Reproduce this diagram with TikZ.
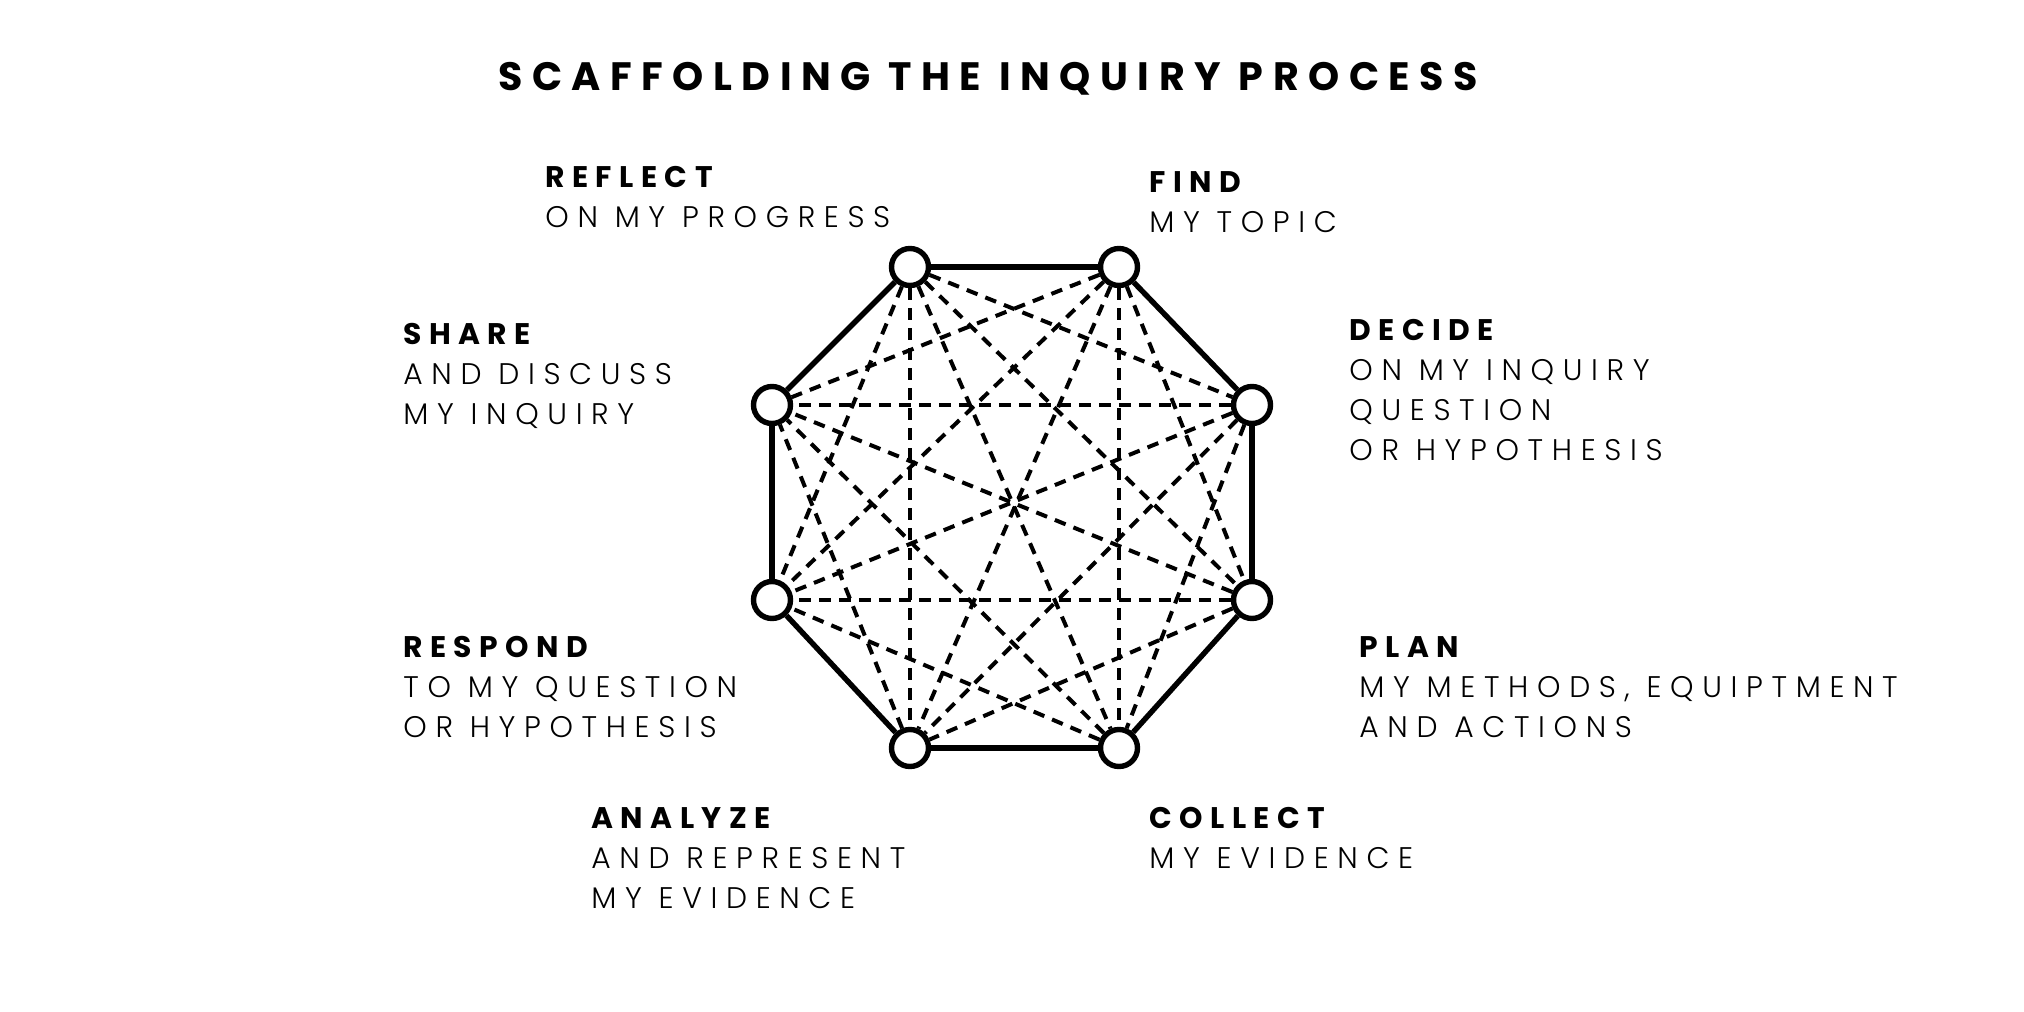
\documentclass[tikz,border=0pt]{standalone}
\usepackage{fontspec}
\setmainfont{Poppins}
\newfontfamily\stagefont[LetterSpace=25]{Poppins}
\newfontfamily\notefont[LetterSpace=29,UprightFont={* Light}]{Poppins}
\newfontfamily\titlefont[LetterSpace=24]{Poppins}

\begin{document}
\begin{tikzpicture}[
    x=0.5pt,
    y=-0.5pt,
    stage/.style={circle, draw, fill=white, line width=2.7pt, minimum size=18.5pt, inner sep=0pt},
    rim/.style={line width=2.7pt},
    link/.style={line width=2pt, dash pattern=on 5.8pt off 4.2pt},
    caption/.style={anchor=base west, align=left, inner sep=0pt, font=\fontsize{14.9}{20}\selectfont}
]
\useasboundingbox (0,0) rectangle (2024,1012);

% Title
\node[anchor=base, inner sep=0pt, font=\fontsize{19.8}{24}\selectfont] (title) at (988,90)
    {\titlefont\bfseries SCAFFOLDING THE INQUIRY PROCESS};

% Stages
\node[stage] (reflect) at (910,267) {};
\node[stage] (find) at (1119,267) {};
\node[stage] (decide) at (1252,405) {};
\node[stage] (plan) at (1252,600) {};
\node[stage] (collect) at (1119,748) {};
\node[stage] (analyze) at (910,748) {};
\node[stage] (respond) at (772,600) {};
\node[stage] (share) at (772,405) {};

% Octagon
\draw[rim] (reflect) -- (find);
\draw[rim] (find) -- (decide);
\draw[rim] (decide) -- (plan);
\draw[rim] (plan) -- (collect);
\draw[rim] (collect) -- (analyze);
\draw[rim] (analyze) -- (respond);
\draw[rim] (respond) -- (share);
\draw[rim] (share) -- (reflect);

% Diagonals
\draw[link] (reflect) -- (decide);
\draw[link] (reflect) -- (plan);
\draw[link] (reflect) -- (collect);
\draw[link] (reflect) -- (analyze);
\draw[link] (reflect) -- (respond);
\draw[link] (find) -- (plan);
\draw[link] (find) -- (collect);
\draw[link] (find) -- (analyze);
\draw[link] (find) -- (respond);
\draw[link] (find) -- (share);
\draw[link] (decide) -- (collect);
\draw[link] (decide) -- (analyze);
\draw[link] (decide) -- (respond);
\draw[link] (decide) -- (share);
\draw[link] (plan) -- (analyze);
\draw[link] (plan) -- (respond);
\draw[link] (plan) -- (share);
\draw[link] (collect) -- (respond);
\draw[link] (collect) -- (share);
\draw[link] (analyze) -- (share);

% Labels (anchored at the baseline of the last line)
\node[caption] (reflecttxt) at (545,227)
    {{\stagefont\bfseries REFLECT}\\{\notefont ON MY PROGRESS}};
\node[caption] (findtxt) at (1149,232)
    {{\stagefont\bfseries FIND}\\{\notefont MY TOPIC}};
\node[caption] (decidetxt) at (1349,460)
    {{\stagefont\bfseries DECIDE}\\{\notefont ON MY INQUIRY}\\{\notefont QUESTION}\\{\notefont OR HYPOTHESIS}};
\node[caption] (plantxt) at (1359,737)
    {{\stagefont\bfseries PLAN}\\{\notefont MY METHODS, EQUIPTMENT}\\{\notefont AND ACTIONS}};
\node[caption] (collecttxt) at (1149,868)
    {{\stagefont\bfseries COLLECT}\\{\notefont MY EVIDENCE}};
\node[caption] (analyzetxt) at (591,908)
    {{\stagefont\bfseries ANALYZE}\\{\notefont AND REPRESENT}\\{\notefont MY EVIDENCE}};
\node[caption] (respondtxt) at (403,737)
    {{\stagefont\bfseries RESPOND}\\{\notefont TO MY QUESTION}\\{\notefont OR HYPOTHESIS}};
\node[caption] (sharetxt) at (403,424)
    {{\stagefont\bfseries SHARE}\\{\notefont AND DISCUSS}\\{\notefont MY INQUIRY}};

\end{tikzpicture}
\end{document}
